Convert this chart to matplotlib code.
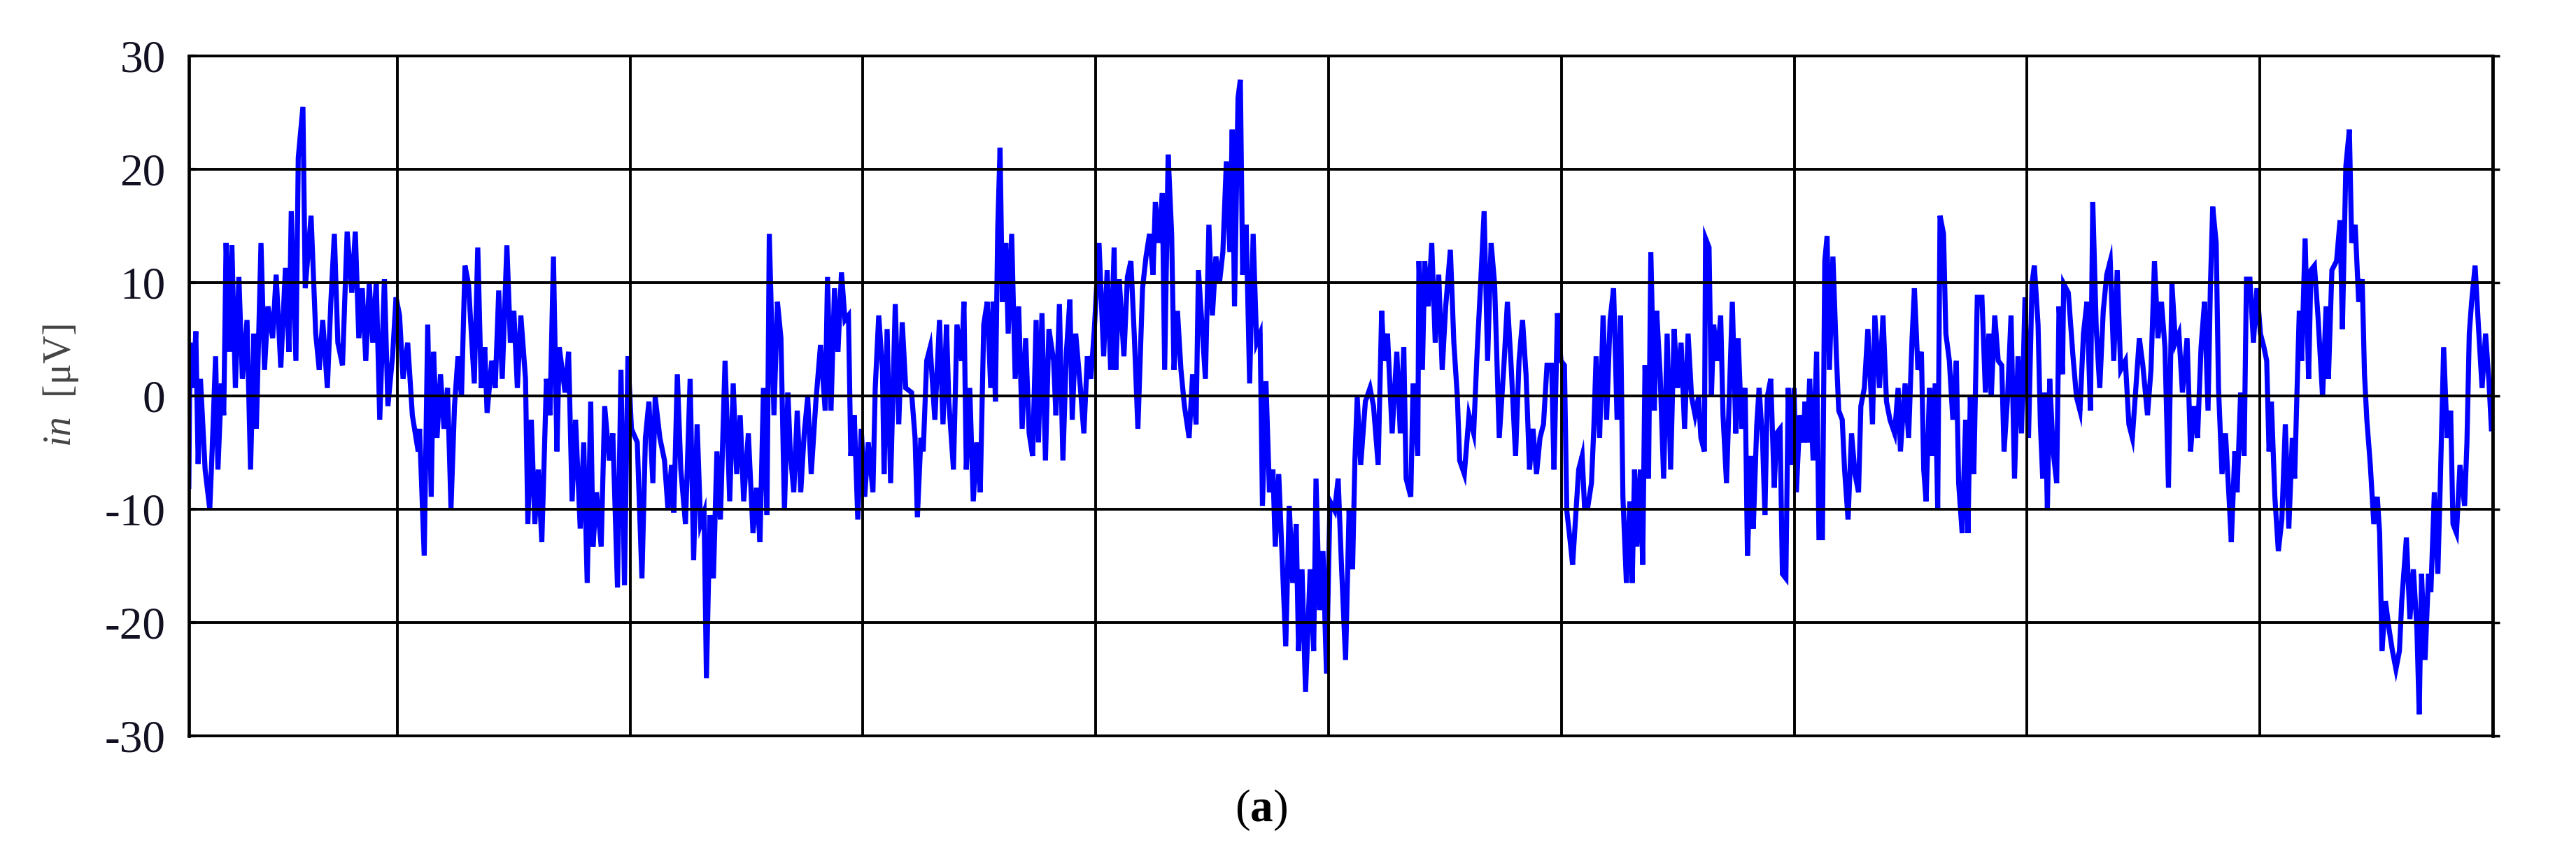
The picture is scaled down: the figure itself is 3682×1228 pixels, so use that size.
import numpy as np
import matplotlib
matplotlib.use("Agg")
import matplotlib.pyplot as plt

# ---- data: noise signal (time in grid divisions, value in uV)
t_s0 = [0.105, 0.110, 0.125, 0.135, 0.145, 0.155, 0.175, 0.195, 0.205, 0.220, 0.230, 0.245, 0.255, 0.265,
        0.280, 0.290, 0.305, 0.320, 0.335, 0.355, 0.370, 0.385, 0.395, 0.415, 0.430, 0.445, 0.465, 0.480,
        0.500, 0.520, 0.535, 0.545, 0.565, 0.575, 0.595, 0.605, 0.630, 0.650, 0.665, 0.680, 0.700, 0.715,
        0.730, 0.745, 0.765, 0.785, 0.805, 0.820, 0.835, 0.850, 0.865, 0.880, 0.895, 0.910, 0.925, 0.945,
        0.960, 0.980, 0.995, 1.010, 1.025, 1.045, 1.065, 1.090]
v_s0 = [-8.0, 4.7, 0.7, 5.7, -6.0, 1.5, -6.5, -10.0, -4.9, 3.5, -6.5, 1.1, -1.7, 13.5,
        3.9, 13.3, 0.7, 10.5, 1.5, 6.7, -6.5, 5.5, -2.9, 13.5, 2.3, 7.9, 5.1, 10.7,
        2.5, 11.3, 3.9, 16.3, 3.1, 21.0, 25.5, 9.5, 15.9, 5.5, 2.3, 6.7, 0.7, 8.3,
        14.3, 4.7, 2.7, 14.5, 9.1, 14.5, 5.1, 9.5, 3.1, 9.9, 4.7, 10.1, -2.1, 10.3,
        -0.9, 3.5, 8.7, 7.1, 1.5, 4.7, -1.7, -4.9]

t_s1 = [1.096, 1.116, 1.131, 1.146, 1.156, 1.171, 1.186, 1.201, 1.216, 1.231, 1.246, 1.261, 1.276, 1.291,
        1.306, 1.331, 1.346, 1.361, 1.376, 1.386, 1.406, 1.421, 1.436, 1.451, 1.471, 1.486, 1.501, 1.516,
        1.531, 1.551, 1.561, 1.576, 1.591, 1.606, 1.621, 1.641, 1.656, 1.671, 1.686, 1.696, 1.721, 1.736,
        1.751, 1.766, 1.786, 1.801, 1.816, 1.831, 1.841, 1.856, 1.876, 1.891, 1.911, 1.926, 1.946, 1.961,
        1.976, 1.991, 2.006, 2.031, 2.051, 2.066, 2.081]
v_s1 = [-2.9, -14.1, 6.3, -8.9, 3.9, -3.7, 1.9, -2.9, 0.7, -9.9, -0.9, 3.5, -0.1, 11.5,
        9.9, 1.1, 13.1, 0.7, 4.3, -1.5, 3.1, 0.7, 9.3, 1.5, 13.3, 4.7, 7.5, 0.7,
        7.1, 1.5, -11.3, -2.1, -11.3, -6.5, -12.9, 1.5, -1.7, 12.3, -4.9, 4.3, 0.3, 3.9,
        -9.3, -2.1, -11.7, -4.1, -16.5, -0.5, -13.3, -8.5, -13.3, -0.9, -5.7, -3.3, -16.9, 2.3,
        -16.7, 3.5, -2.9, -4.1, -16.1, -3.7, -0.5]

t_s2 = [2.098, 2.108, 2.128, 2.148, 2.163, 2.178, 2.188, 2.203, 2.218, 2.238, 2.258, 2.273, 2.288, 2.303,
        2.318, 2.328, 2.343, 2.358, 2.373, 2.388, 2.408, 2.428, 2.443, 2.458, 2.473, 2.488, 2.508, 2.528,
        2.543, 2.558, 2.573, 2.588, 2.598, 2.618, 2.633, 2.648, 2.663, 2.678, 2.688, 2.703, 2.718, 2.733,
        2.748, 2.763, 2.778, 2.798, 2.818, 2.838, 2.848, 2.863, 2.878, 2.893, 2.908, 2.923, 2.938, 2.948,
        2.963, 2.978, 2.993, 3.008, 3.023, 3.043, 3.053, 3.068]
v_s2 = [-7.7, -0.1, -3.7, -5.7, -10.1, -6.1, -10.3, 1.9, -6.5, -11.3, 1.5, -14.5, -2.5, -11.3,
        -10.3, -24.9, -10.5, -16.1, -4.9, -10.9, 3.1, -9.3, 1.1, -6.9, -1.7, -9.3, -3.3, -12.1,
        -8.1, -12.9, 0.7, -10.5, 14.3, -1.7, 8.3, 5.1, -10.1, 0.3, -4.9, -8.5, -1.3, -8.5,
        -3.3, -0.1, -6.9, -0.5, 4.5, -1.3, 10.5, -1.3, 9.5, 3.9, 10.9, 6.7, 7.1, -5.3,
        -1.7, -10.9, -2.9, -8.9, -4.1, -8.5, 0.7, 7.1]

t_s3 = [3.084, 3.091, 3.104, 3.119, 3.139, 3.154, 3.169, 3.184, 3.209, 3.224, 3.234, 3.249, 3.259, 3.274,
        3.289, 3.309, 3.329, 3.344, 3.359, 3.369, 3.389, 3.404, 3.424, 3.434, 3.444, 3.459, 3.474, 3.489,
        3.504, 3.519, 3.534, 3.549, 3.559, 3.569, 3.579, 3.589, 3.599, 3.614, 3.624, 3.639, 3.654, 3.669,
        3.684, 3.699, 3.714, 3.729, 3.744, 3.754, 3.769, 3.784, 3.799, 3.819, 3.829, 3.844, 3.859, 3.874,
        3.889, 3.899, 3.914, 3.934, 3.949, 3.964, 3.979, 3.994, 4.014, 4.034, 4.049, 4.064]
v_s3 = [2.3, -6.9, 5.9, -7.7, 8.1, -2.5, 6.5, 0.7, 0.3, -3.7, -10.7, -3.7, -4.9, 3.1,
        4.3, -2.1, 6.7, -2.5, 6.3, -0.5, -6.5, 6.3, 3.1, 8.3, -6.5, 0.7, -9.3, -4.1,
        -8.5, 6.3, 8.3, 0.7, 8.3, -0.5, 14.7, 21.9, 8.3, 13.5, 5.5, 14.3, 1.5, 7.9,
        -2.9, 5.1, -3.3, -5.3, 6.7, -4.1, 7.3, -5.7, 5.9, 3.1, -1.7, 8.1, -5.7, 3.9,
        8.5, -2.1, 5.5, 0.7, -3.3, 3.5, 1.5, 5.9, 13.5, 3.5, 11.1, 2.3]

t_s4 = [4.079, 4.086, 4.101, 4.121, 4.136, 4.151, 4.166, 4.181, 4.201, 4.216, 4.231, 4.246, 4.256, 4.271,
        4.286, 4.296, 4.311, 4.326, 4.336, 4.351, 4.366, 4.381, 4.401, 4.416, 4.431, 4.441, 4.456, 4.471,
        4.486, 4.501, 4.516, 4.531, 4.546, 4.561, 4.576, 4.586, 4.596, 4.611, 4.621, 4.631, 4.646, 4.661,
        4.676, 4.691, 4.706, 4.716, 4.731, 4.746, 4.761, 4.771, 4.786, 4.801, 4.816, 4.831, 4.846, 4.861,
        4.871, 4.886, 4.901, 4.921, 4.936, 4.946, 4.961, 4.976, 4.991, 5.006, 5.026, 5.041, 5.056]
v_s4 = [13.1, 2.3, 10.3, 3.5, 10.5, 11.9, 5.1, -2.9, 9.5, 12.3, 14.3, 10.7, 17.1, 13.5,
        17.9, 2.3, 21.3, 14.3, 2.3, 7.5, 2.3, -0.9, -3.7, 1.9, -2.5, 11.1, 6.3, 1.5,
        15.1, 7.1, 12.3, 9.9, 12.7, 20.7, 12.7, 23.5, 7.9, 26.3, 27.9, 10.7, 15.1, 1.1,
        14.3, 4.7, 5.5, -9.7, 1.3, -8.5, -6.5, -13.3, -6.9, -14.5, -22.1, -9.7, -16.5, -11.3,
        -22.5, -15.3, -26.1, -15.3, -22.5, -7.3, -18.9, -13.7, -24.5, -9.3, -10.1, -7.3, -15.3]

t_s5 = [5.073, 5.088, 5.103, 5.113, 5.123, 5.138, 5.158, 5.178, 5.193, 5.213, 5.228, 5.238, 5.253, 5.273,
        5.293, 5.308, 5.323, 5.333, 5.353, 5.363, 5.383, 5.388, 5.403, 5.413, 5.428, 5.443, 5.458, 5.473,
        5.488, 5.503, 5.523, 5.538, 5.553, 5.563, 5.583, 5.603, 5.623, 5.638, 5.653, 5.668, 5.683, 5.698,
        5.713, 5.733, 5.753, 5.768, 5.783, 5.803, 5.818, 5.833, 5.848, 5.863, 5.878, 5.893, 5.908, 5.923,
        5.938, 5.958, 5.968, 5.983, 5.998, 6.013, 6.023, 6.038, 6.048]
v_s5 = [-23.3, -10.1, -15.3, -5.7, -0.1, -6.1, -0.5, 0.7, -0.9, -6.1, 7.5, 3.1, 5.5, -3.3,
        3.9, -3.3, 4.3, -7.3, -8.9, 1.1, -5.3, 11.9, 2.3, 11.9, 7.9, 13.5, 4.7, 10.7,
        2.3, 7.9, 12.9, 4.7, -0.1, -5.7, -6.9, -1.7, -3.3, 3.9, 9.9, 16.3, 3.1, 13.5,
        9.9, -3.7, 2.7, 8.3, 3.1, -5.3, 3.1, 6.7, 1.9, -6.5, -2.9, -6.9, -3.7, -2.5,
        2.7, 2.7, -6.5, 7.3, 3.1, 2.7, -10.1, -12.9, -14.9]

t_s6 = [6.074, 6.089, 6.099, 6.114, 6.129, 6.139, 6.149, 6.164, 6.179, 6.194, 6.209, 6.224, 6.239, 6.254,
        6.264, 6.279, 6.294, 6.304, 6.314, 6.324, 6.339, 6.349, 6.359, 6.374, 6.384, 6.399, 6.409, 6.424,
        6.439, 6.454, 6.469, 6.484, 6.499, 6.514, 6.529, 6.544, 6.559, 6.574, 6.589, 6.599, 6.614, 6.619,
        6.634, 6.644, 6.654, 6.669, 6.684, 6.694, 6.709, 6.719, 6.734, 6.749, 6.759, 6.774, 6.789, 6.799,
        6.814, 6.824, 6.839, 6.849, 6.864, 6.874, 6.884, 6.899, 6.914, 6.924, 6.939, 6.949, 6.964, 6.974,
        6.984, 6.999, 7.009, 7.024, 7.039]
v_s6 = [-6.5, -5.3, -9.7, -9.7, -7.7, -2.9, 3.5, -3.7, 7.1, -2.1, 6.7, 9.5, -2.1, 7.1,
        -8.9, -16.5, -9.3, -16.5, -6.5, -13.3, -6.5, -14.9, 2.7, -7.3, 12.7, -1.3, 7.5, 1.9,
        -7.3, 5.5, -6.5, 5.9, 0.7, 4.7, -2.9, 5.5, -0.1, -1.7, -0.1, -3.7, -4.9, 13.9,
        13.1, -0.1, 6.3, 3.1, 7.1, -1.7, -7.7, -1.3, 8.3, -3.3, 5.1, -2.9, 0.7, -14.1,
        -5.3, -11.7, -2.5, 0.7, -4.1, -10.5, -0.1, 1.5, -8.1, -3.3, -2.9, -15.7, -16.1, 0.7,
        -6.1, 0.7, -8.5, -1.7, -4.1]

t_s7 = [7.046, 7.056, 7.066, 7.081, 7.096, 7.106, 7.121, 7.131, 7.141, 7.151, 7.166, 7.181, 7.191, 7.206,
        7.216, 7.231, 7.246, 7.261, 7.276, 7.286, 7.301, 7.316, 7.336, 7.346, 7.366, 7.381, 7.396, 7.411,
        7.431, 7.446, 7.456, 7.476, 7.491, 7.506, 7.516, 7.531, 7.546, 7.556, 7.566, 7.581, 7.591, 7.606,
        7.616, 7.626, 7.641, 7.651, 7.666, 7.681, 7.696, 7.706, 7.721, 7.736, 7.746, 7.756, 7.771, 7.786,
        7.806, 7.821, 7.836, 7.846, 7.861, 7.876, 7.891, 7.901, 7.916, 7.931, 7.946, 7.961, 7.976, 7.991,
        8.006, 8.021, 8.031]
v_s7 = [-0.5, -4.1, 1.5, -5.7, 3.9, -12.5, -12.5, 11.9, 14.1, 2.3, 12.3, 3.5, -1.3, -2.1,
        -6.5, -10.9, -3.3, -6.9, -8.5, -0.9, 0.7, 5.9, -2.5, 7.1, 0.7, 7.1, -0.5, -2.1,
        -3.3, 0.7, -4.9, 1.1, -3.7, 5.1, 9.5, 2.3, 3.9, -6.5, -9.3, 0.7, -5.3, 1.1,
        -10.1, 15.9, 14.3, 5.5, 3.1, -2.1, 3.1, -7.7, -12.1, -2.1, -12.1, -0.1, -6.9, 8.7,
        8.7, 0.3, 5.5, -0.1, 7.1, 3.1, 2.7, -4.9, -0.1, 7.1, -7.3, 3.5, -3.3, 8.7,
        -3.7, 9.9, 11.5]

t_s8 = [8.047, 8.057, 8.067, 8.077, 8.087, 8.097, 8.112, 8.127, 8.137, 8.152, 8.157, 8.177, 8.197, 8.212,
        8.227, 8.242, 8.257, 8.272, 8.282, 8.297, 8.312, 8.327, 8.342, 8.357, 8.372, 8.387, 8.402, 8.422,
        8.437, 8.452, 8.467, 8.482, 8.497, 8.517, 8.532, 8.547, 8.562, 8.577, 8.592, 8.607, 8.622, 8.637,
        8.652, 8.667, 8.687, 8.702, 8.717, 8.732, 8.747, 8.762, 8.777, 8.787, 8.797, 8.812, 8.822, 8.837,
        8.852, 8.867, 8.877, 8.892, 8.902, 8.917, 8.932, 8.942, 8.957, 8.972, 8.987, 9.002, 9.017]
v_s8 = [6.3, -2.5, -7.3, 0.3, -10.1, 1.5, -4.9, -7.7, 7.9, 1.9, 9.9, 9.1, 3.5, -0.1,
        -1.3, 5.5, 8.3, -1.3, 17.1, 5.9, 0.7, 7.5, 10.7, 11.9, 3.1, 11.1, 2.3, 3.1,
        -2.5, -3.7, 0.7, 5.1, 2.7, -1.7, 2.3, 11.9, 5.1, 8.3, 4.3, -8.1, 9.9, 4.7,
        5.5, 0.3, 5.1, -4.9, -0.9, -3.7, 4.3, 8.3, -1.3, 9.5, 16.7, 13.5, 0.7, -6.9,
        -3.3, -8.9, -12.9, -4.9, -8.5, 0.3, -5.3, 10.3, 10.3, 4.7, 9.5, 5.5, 4.3]

t_s9 = [9.029, 9.039, 9.049, 9.064, 9.079, 9.094, 9.109, 9.124, 9.139, 9.149, 9.159, 9.169, 9.179, 9.194,
        9.209, 9.219, 9.234, 9.249, 9.269, 9.284, 9.294, 9.309, 9.329, 9.344, 9.354, 9.369, 9.384, 9.394,
        9.409, 9.424, 9.439, 9.449, 9.459, 9.474, 9.489, 9.504, 9.514, 9.524, 9.539, 9.554, 9.569, 9.584,
        9.599, 9.609, 9.629, 9.644, 9.659, 9.674, 9.684, 9.694, 9.709, 9.724, 9.734, 9.749, 9.764, 9.774,
        9.789, 9.804, 9.819, 9.829, 9.844, 9.859, 9.879, 9.889, 9.899, 9.909, 9.924, 9.939, 9.954, 9.969,
        9.984, 9.994]
v_s9 = [3.1, -4.9, -0.5, -8.9, -13.7, -10.9, -2.5, -11.7, -3.7, -7.3, 0.3, 7.5, 3.1, 13.9,
        1.5, 11.1, 11.5, 7.1, -0.1, 7.9, 1.5, 11.1, 11.9, 15.5, 5.9, 20.3, 23.5, 13.5,
        15.1, 8.3, 10.3, 1.9, -2.1, -6.1, -11.3, -8.9, -12.1, -22.5, -18.1, -20.5, -22.5, -24.1,
        -22.5, -18.1, -12.5, -19.7, -15.3, -20.5, -28.1, -15.7, -23.3, -15.7, -17.3, -8.5, -15.7, -8.1,
        4.3, -3.7, -1.3, -11.3, -12.1, -6.1, -9.7, -4.1, 5.5, 8.3, 11.5, 5.9, 0.7, 5.5,
        1.1, -2.9]

y_ticks = [-30, -20, -10, 0, 10, 20, 30]
x_grid = [1, 2, 3, 4, 5, 6, 7, 8, 9, 10]
y_label = r"$\mathit{in}$  [μV]"
panel_label = r"($\mathbf{a}$)"

time = np.concatenate([t_s0, t_s1, t_s2, t_s3, t_s4, t_s5, t_s6, t_s7, t_s8, t_s9])
signal = np.concatenate([v_s0, v_s1, v_s2, v_s3, v_s4, v_s5, v_s6, v_s7, v_s8, v_s9])

plt.rcParams['font.family'] = ['Liberation Serif', 'DejaVu Serif']
plt.rcParams['axes.unicode_minus'] = False
plt.rcParams['mathtext.fontset'] = 'custom'
plt.rcParams['mathtext.it'] = 'Liberation Serif:italic'
plt.rcParams['mathtext.rm'] = 'Liberation Serif'
plt.rcParams['mathtext.bf'] = 'Liberation Serif:bold'

fig = plt.figure(figsize=(36.82, 12.28), dpi=100)
ax = fig.add_axes([0.0733, 0.1433, 0.8944, 0.7916])
ax.plot(time, signal, color='#0000ff', lw=5.2, solid_joinstyle='miter', zorder=2)
ax.set_xlim(0.105, 10)
ax.set_ylim(-30, 30)
ax.set_axisbelow(False)
ax.set_yticks(y_ticks)
ax.set_xticks(x_grid)
ax.set_xticklabels([])
ax.grid(True, color='black', lw=2.8)
ax.tick_params(axis='x', length=0)
ax.tick_params(axis='y', direction='in', length=7, width=3, labelsize=47, pad=24,
               labelcolor='#111122')
for side, sp in ax.spines.items():
    sp.set_linewidth(2.8)
    sp.set_color('black')
ax.spines['left'].set_linewidth(3.4)

sec = ax.secondary_yaxis('right')
sec.set_yticks(y_ticks)
sec.tick_params(direction='out', length=7, width=2.5, labelright=False)
sec.spines['right'].set_linewidth(3.4)

ax.set_ylabel(y_label, fontsize=40, color='#444444')
ax.yaxis.set_label_coords(-0.047, 0.515)

fig.text(0.4897, 0.057, panel_label, ha='center', va='center', fontsize=47, color='black')

fig.savefig('out.png', dpi=100)
